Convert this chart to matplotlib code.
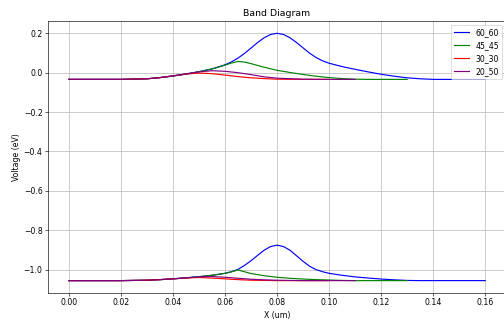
import matplotlib
matplotlib.use("Agg")
import matplotlib.pyplot as plt

# 60_60 device
x_60_60 = [0.0, 0.02, 0.03, 0.035, 0.04, 0.045, 0.05, 0.055, 0.06, 0.0625, 0.065,
           0.0675, 0.07, 0.0725, 0.075, 0.0775, 0.08, 0.0825, 0.085, 0.0875, 0.09,
           0.0925, 0.095, 0.0975, 0.10, 0.105, 0.11, 0.115, 0.12, 0.125, 0.13,
           0.135, 0.14, 0.16]
ec_60_60 = [-0.034, -0.034, -0.031, -0.025, -0.017, -0.007, 0.005, 0.019, 0.040, 0.055,
            0.074, 0.098, 0.125, 0.153, 0.177, 0.194, 0.200, 0.194, 0.177, 0.153,
            0.126, 0.099, 0.077, 0.060, 0.048, 0.031, 0.017, 0.004, -0.008, -0.018,
            -0.026, -0.031, -0.034, -0.034]
ev_60_60 = [-1.056, -1.056, -1.054, -1.051, -1.047, -1.042, -1.036, -1.029, -1.019, -1.011,
            -0.999, -0.979, -0.955, -0.928, -0.902, -0.883, -0.876, -0.883, -0.902, -0.930,
            -0.958, -0.983, -1.000, -1.011, -1.019, -1.029, -1.037, -1.043, -1.048, -1.052,
            -1.055, -1.056, -1.056, -1.056]

# 45_45 device
x_45_45 = [0.0, 0.02, 0.03, 0.035, 0.04, 0.045, 0.05, 0.055, 0.06, 0.0625, 0.065,
           0.0675, 0.07, 0.075, 0.08, 0.085, 0.09, 0.095, 0.10, 0.105, 0.11,
           0.115, 0.12, 0.13]
ec_45_45 = [-0.034, -0.034, -0.031, -0.025, -0.017, -0.007, 0.005, 0.019, 0.038, 0.049,
            0.057, 0.054, 0.046, 0.028, 0.012, 0.001, -0.009, -0.018, -0.025, -0.030,
            -0.033, -0.034, -0.034, -0.034]
ev_45_45 = [-1.056, -1.056, -1.054, -1.051, -1.047, -1.042, -1.036, -1.029, -1.019, -1.011,
            -1.002, -1.011, -1.020, -1.031, -1.039, -1.044, -1.048, -1.051, -1.053, -1.055,
            -1.056, -1.056, -1.056, -1.056]

# 30_30 device
x_30_30 = [0.0, 0.02, 0.03, 0.035, 0.04, 0.045, 0.05, 0.055, 0.06, 0.065, 0.07,
           0.075, 0.08, 0.09, 0.10]
ec_30_30 = [-0.034, -0.034, -0.031, -0.025, -0.016, -0.007, -0.002, -0.005, -0.012, -0.020,
            -0.026, -0.030, -0.033, -0.034, -0.034]
ev_30_30 = [-1.056, -1.056, -1.054, -1.051, -1.047, -1.043, -1.040, -1.043, -1.047, -1.051,
            -1.054, -1.055, -1.056, -1.056, -1.056]

# 20_50 device
x_20_50 = [0.0, 0.02, 0.03, 0.035, 0.04, 0.045, 0.05, 0.055, 0.06, 0.065, 0.07,
           0.075, 0.08, 0.09, 0.10, 0.11]
ec_20_50 = [-0.034, -0.034, -0.031, -0.025, -0.016, -0.006, 0.004, 0.010, 0.007, 0.000,
            -0.010, -0.021, -0.028, -0.033, -0.034, -0.034]
ev_20_50 = [-1.056, -1.056, -1.054, -1.051, -1.047, -1.042, -1.037, -1.035, -1.039, -1.044,
            -1.049, -1.052, -1.054, -1.056, -1.056, -1.056]

devices = [
    ("60_60", "blue", x_60_60, ec_60_60, ev_60_60),
    ("45_45", "green", x_45_45, ec_45_45, ev_45_45),
    ("30_30", "red", x_30_30, ec_30_30, ev_30_30),
    ("20_50", "purple", x_20_50, ec_20_50, ev_20_50),
]

fig = plt.figure(figsize=(9.0, 5.804), dpi=56)
ax = fig.add_axes([0.0952, 0.0985, 0.909, 0.837])

for name, color, x, ec, ev in devices:
    ax.plot(x, ec, color=color, label=name)
    ax.plot(x, ev, color=color)

ax.set_title("Band Diagram")
ax.set_xlabel("X (um)")
ax.set_ylabel("Voltage (eV)")
ax.grid(True)
ax.legend(loc="upper right")

fig.savefig("out.png", dpi=56)
